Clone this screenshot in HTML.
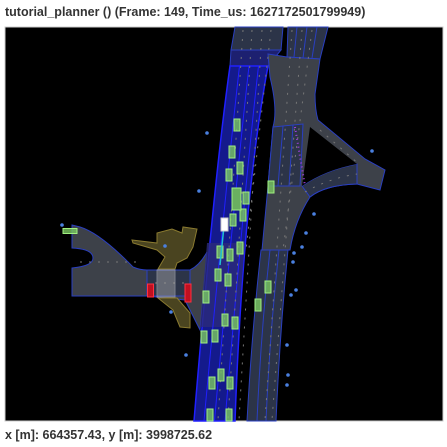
<!DOCTYPE html>
<html><head><meta charset="utf-8"><style>
body{margin:0;background:#fff;width:447px;height:447px;overflow:hidden;font-family:"Liberation Sans",sans-serif}
.t{position:absolute;left:5px;top:5px;font-size:12.5px;font-weight:bold;color:#333}
.f{position:absolute;left:5px;top:428px;font-size:12.5px;font-weight:bold;color:#333}
svg{position:absolute;left:0;top:0}
</style></head><body>
<div class="t">tutorial_planner () (Frame: 149, Time_us: 1627172501799949)</div>
<svg width="447" height="447">
<rect x="5" y="27" width="438" height="394" fill="#000" stroke="#ccc"/>
<g id="map">
<path d="M72,225 L80,227 Q100,233 133,267 Q140,270 147,270 L190,270 Q200,265 207,252 L200,330 L185,300 L147,296 L72,296 L72,268 Q93,266 93,258 Q93,249 72,248 Z" fill="#3d4149" stroke="#2a3fc0" stroke-width="1"/>
<rect x="147" y="270" width="43" height="26" fill="#2c3448" stroke="#2a3fc0"/>
<path d="M132,240 L157,243 L157,233 L172,229 L182,233 L183,227 L197,229 L193,247 L187,258 L177,263 L175,269 L158,269 L165,257 L157,250 L133,243 Z" fill="#4a4420" stroke="#8a7a30"/>
<path d="M158,298 L177,298 L190,313 L190,328 L180,327 L173,310 Z" fill="#4a4420" stroke="#8a7a30"/>
<path d="M235,27 L283,27 L281,50 L231,50 Z" fill="#2c3448" stroke="#2a3fc0"/>
<path d="M231,50 L281,50 L268,66 L230,66 Z" fill="#1d2070" stroke="#2a3fc0"/>
<path d="M230,66 Q214,180 194,421 L235,421 Q243,200 268,66 Z" fill="#141a8c" stroke="#2020ff" stroke-width="1.5"/>
<path d="M207,243 L245,243 L238,327 L200,327 Z" fill="#2a2a7a" opacity="0.8"/>
<g stroke="#2020ff" stroke-width="1" fill="none">
<path d="M239.5,66 Q226,185 204,421"/><path d="M249,66 Q235,190 214.5,421"/><path d="M258.5,66 Q244,195 225,421"/>
</g>
<path d="M288,27 L328,27 L320,59 L287,57 Z" fill="#2c3448" stroke="#2a3fc0"/>
<path d="M268,54 L287,57 L320,59 L315,94 Q315,110 318,120 L365,159 L385,170 L380,190 L357,184 Q325,185 310,197 Q295,220 290,250 L262,250 L268,186 L273,127 Q278,110 270,77 Z" fill="#3d4149" stroke="#2a3fc0"/>
<path d="M302,186 Q325,170 357,164 L357,184 Q325,185 310,197 Z" fill="#2c3448" stroke="#2a3fc0"/>
<path d="M310,127 L357,164 Q325,170 302,186 Z" fill="#000"/>
<path d="M273,127 L303,124 L300,186 L268,186 Z" fill="#2c3448" stroke="#2a3fc0"/>
<path d="M261,250 L288,250 Q280,330 276,421 L247,421 Q252,330 261,250 Z" fill="#2c3448" stroke="#2a3fc0"/>
<g stroke="#2a3fc0" fill="none"><path d="M297,27 L294,57"/><path d="M307,27 L303,58"/><path d="M317,27 L312,58"/>
<path d="M283,126 L278,186"/><path d="M293,125 L289,186"/><path d="M270,250 Q261,330 257,421"/><path d="M279,250 Q270,330 266,421"/></g>
<g stroke="#777" stroke-width="1" stroke-dasharray="2,7" fill="none">
<path d="M252,30 L228,420"/><path d="M243,30 L218,420"/><path d="M262,30 L239,420"/><path d="M271,30 L246,250"/>
<path d="M292,30 L265,420"/><path d="M302,30 L272,420"/><path d="M312,30 L283,250"/><path d="M320,130 L360,165"/><path d="M305,192 Q330,178 357,174"/>
<path d="M80,262 L140,262"/><path d="M155,283 L190,283"/></g>
<path d="M295,127 L305,186" stroke="#a040e0" stroke-width="2" stroke-dasharray="1,3"/>
</g>
<rect x="157" y="270" width="18" height="27" fill="#aaa" opacity="0.45" stroke="#ddd"/>
<g id="objs"></g>
</svg>
<div class="f">x [m]: 664357.43, y [m]: 3998725.62</div>
<script>
const carX=[237,232,240,229,246,243,233,230,240,220,218,228,206,225,235,204,215,221,212,230,210,229,271,268,258,70];
const carY=[125,152,168,175,198,215,220,255,248,252,275,280,297,320,323,337,336,375,383,383,415,415,187,287,305,231];
const pedX=[207,199,372,314,306,302,294,293,296,291,287,186,288,287,165,171,62];
const pedY=[133,191,151,214,233,247,253,262,290,295,345,355,375,385,246,312,225];
const ns="http://www.w3.org/2000/svg",g=document.getElementById('objs');
function mk(t,a){const e=document.createElementNS(ns,t);for(const k in a)e.setAttribute(k,a[k]);g.appendChild(e);return e;}
for(let i=0;i<carX.length;i++){
 const w=i===25?14:6,h=i===25?5:12;
 const e=mk('rect',{x:carX[i]-w/2,y:carY[i]-h/2,width:w,height:h,fill:'#7ac860',stroke:'#a0f080','fill-opacity':0.8});
 
 
}
const big=mk('rect',{x:232,y:188,width:9,height:22,fill:'#6ab060',stroke:'#a0f080'});


for(let i=0;i<pedX.length;i++){
 const e=mk('circle',{cx:pedX[i],cy:pedY[i],r:1.8,fill:'#4a80e0'});
 
 
}
const r1=mk('rect',{x:147.5,y:284,width:6,height:13,fill:'#c01020',stroke:'#ff3040'});


const r2=mk('rect',{x:185,y:284,width:6,height:18,fill:'#c01020',stroke:'#ff3040'});


const tr=mk('line',{x1:224,y1:226,x2:220,y2:265,stroke:'#20c0d0','stroke-width':1.5});


const ego=mk('rect',{x:221,y:218,width:7,height:13,fill:'#fff',stroke:'#ccc'});


</script>
</body></html>
